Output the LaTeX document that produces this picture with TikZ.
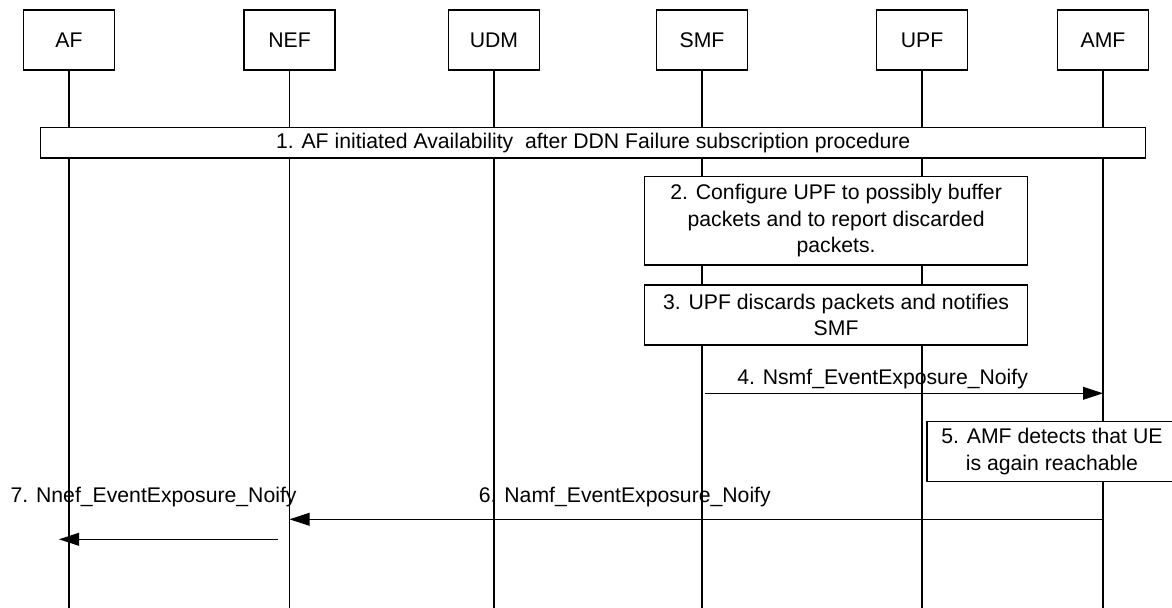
\documentclass[tikz,border=0pt]{standalone}
\usepackage{fontspec}
\setmainfont{Liberation Sans}
\usetikzlibrary{arrows.meta, positioning}

\begin{document}
\begin{tikzpicture}[
  x=0.5pt, y=-0.5pt,
  line width=0.6pt,
  every node/.style={font=\fontsize{10.6}{13.3}\selectfont, align=center},
  entity/.style={draw, fill=white, minimum width=45.5pt, minimum height=30pt},
  stepbox/.style={draw, fill=white, inner sep=0pt},
  msglabel/.style={anchor=base west, inner sep=0pt},
  msg/.style={-{Triangle[length=10pt, width=6.4pt]}}
]
\useasboundingbox (0,0) rectangle (1172,608);

% Top row
\node[entity] (af) at (69,40) {AF};
\node[entity] (nef) at (289.5,40) {NEF};
\node[entity] (udm) at (494,40) {UDM};
\node[entity] (smf) at (702,40) {SMF};
\node[entity] (upf) at (922,40) {UPF};
\node[entity] (amf) at (1103,40) {AMF};

% Lifelines
\coordinate (bottom) at (0,608);
\foreach \n in {af,nef,udm,smf,upf,amf}
  \draw (\n.south) -- (\n.south |- bottom);

% Steps
\node[stepbox, minimum width=552.5pt, minimum height=15.2pt] (s1) at (593.2,142.9)
  {1. AF initiated Availability\ \ after DDN Failure subscription procedure};
\node[stepbox, minimum width=191.4pt, minimum height=44.2pt] (s2) at (836.1,220.9)
  {2. Configure UPF to possibly buffer\\ packets and to report discarded\\ packets.};
\node[stepbox, minimum width=191.4pt, minimum height=30pt] (s3) at (836.1,315)
  {3. UPF discards packets and notifies\\ SMF};
\node[stepbox, minimum width=125pt, minimum height=30pt] (s5) at (1051.9,451.7)
  {5. AMF detects that UE\\ is again reachable};

% Messages
\coordinate (m4) at (0,393.3);
\coordinate (m6) at (0,519.3);
\coordinate (m7) at (0,539.3);

\draw[msg, shorten <=1.5pt] (smf |- m4) -- (amf |- m4);
\node[msglabel] (l4) at (736.7,385) {4. Nsmf\_EventExposure\_Noify};

\draw[msg] (amf |- m6) -- (nef |- m6);
\node[msglabel] (l6) at (478.3,502.3) {6. Namf\_EventExposure\_Noify};

\draw[msg, shorten <=5.6pt, shorten >=-5pt] (nef |- m7) -- (af |- m7);
\node[msglabel] (l7) at (10,502.3) {7. Nnef\_EventExposure\_Noify};
\end{tikzpicture}
\end{document}
